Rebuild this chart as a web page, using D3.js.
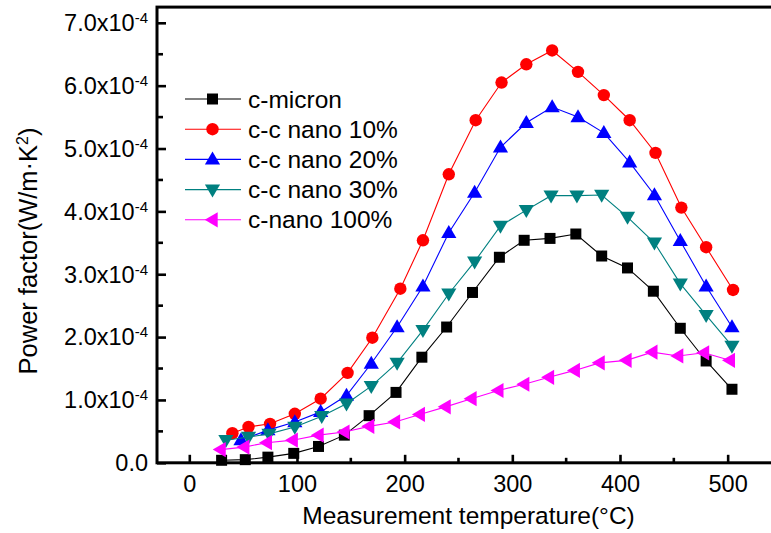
<!DOCTYPE html>
<html>
<head>
<meta charset="utf-8">
<script src="https://cdn.jsdelivr.net/npm/d3@7/dist/d3.min.js"></script>
<style>
  html, body { margin: 0; padding: 0; background: #fff; }
  svg { display: block; }
  text { font-family: "Liberation Sans", Arial, Helvetica, sans-serif; fill: #000; }
</style>
</head>
<body>
<svg id="chart" width="771" height="533"></svg>
<script>
// Power factor of the samples, in units of 1e-4 W/(m·K²), versus temperature (°C)
const microT   = [30, 52, 73, 97, 120, 144, 167, 192, 216, 239, 263, 288, 311, 335, 359, 383, 407, 431, 456, 480, 504];
const microPF  = [0.04, 0.05, 0.09, 0.15, 0.26, 0.44, 0.75, 1.12, 1.68, 2.16, 2.71, 3.27, 3.54, 3.57, 3.64, 3.29, 3.10, 2.73, 2.14, 1.62, 1.17];

const nano10T  = [40, 55, 75, 98, 122, 147, 170, 196, 217, 241, 266, 290, 313, 337, 361, 385, 409, 433, 457, 480, 505];
const nano10PF = [0.47, 0.57, 0.62, 0.78, 1.02, 1.43, 1.99, 2.77, 3.54, 4.59, 5.45, 6.05, 6.34, 6.56, 6.22, 5.85, 5.45, 4.93, 4.06, 3.43, 2.75];

const nano20T  = [48, 73, 98, 122, 146, 169, 193, 217, 241, 265, 289, 313, 337, 361, 385, 409, 432, 456, 480, 504];
const nano20PF = [0.36, 0.52, 0.65, 0.81, 1.07, 1.58, 2.16, 2.81, 3.66, 4.30, 5.02, 5.41, 5.66, 5.50, 5.25, 4.78, 4.26, 3.53, 2.81, 2.16];

const nano30T  = [34, 55, 74, 98, 123, 146, 169, 193, 217, 241, 265, 289, 313, 336, 360, 383, 407, 432, 456, 480, 504];
const nano30PF = [0.36, 0.41, 0.46, 0.57, 0.74, 0.94, 1.22, 1.59, 2.11, 2.69, 3.20, 3.77, 4.02, 4.25, 4.25, 4.26, 3.91, 3.50, 2.85, 2.35, 1.86];

const nano100T  = [29, 51, 72, 96, 120, 144, 167, 191, 214, 238, 262, 287, 311, 334, 358, 381, 406, 430, 454, 478, 502];
const nano100PF = [0.21, 0.25, 0.32, 0.36, 0.44, 0.49, 0.58, 0.65, 0.77, 0.89, 1.02, 1.15, 1.25, 1.36, 1.47, 1.59, 1.63, 1.76, 1.70, 1.75, 1.63];

const seriesNames = ["c-micron", "c-c nano 10%", "c-c nano 20%", "c-c nano 30%", "c-nano 100%"];
const seriesColors = ["#000000", "#ff0000", "#0000ff", "#008080", "#ff00ff"];
const seriesSymbols = ["square", "circle", "triangleUp", "triangleDown", "triangleLeft"];

const xMajorTicks = [0, 100, 200, 300, 400, 500];
const xMinorTicks = [50, 150, 250, 350, 450];
const yMajorTicks = [0, 1, 2, 3, 4, 5, 6, 7];
const yMinorTicks = [0.5, 1.5, 2.5, 3.5, 4.5, 5.5, 6.5];

const xTitle = "Measurement temperature(°C)";

const series = [
  { T: microT,   v: microPF },
  { T: nano10T,  v: nano10PF },
  { T: nano20T,  v: nano20PF },
  { T: nano30T,  v: nano30PF },
  { T: nano100T, v: nano100PF }
].map((s, i) => ({
  name: seriesNames[i], color: seriesColors[i], symbol: seriesSymbols[i],
  points: s.T.map((t, j) => ({ t, v: s.v[j] }))
}));

const svg = d3.select("#chart");

const x = d3.scaleLinear().domain([-30, 580]).range([157, 813.8]);
const y = d3.scaleLinear().domain([0, 7.25]).range([462.8, 7.1]);

// marker shapes, centred on the data point
function symbolPath(kind) {
  switch (kind) {
    case "square": return "M-5.5,-5.5H5.5V5.5H-5.5Z";
    case "circle": return d3.symbol(d3.symbolCircle, Math.PI * 6.2 * 6.2)();
    case "triangleUp": return "M0,-7.8L7.6,5.2L-7.6,5.2Z";
    case "triangleDown": return "M0,7.8L7.6,-5.2L-7.6,-5.2Z";
    case "triangleLeft": return "M-7.8,0L5.2,-7.6L5.2,7.6Z";
  }
}

// y axis (inward ticks)
const yAxis = d3.axisLeft(y).tickValues(yMajorTicks).tickSizeInner(-9).tickSizeOuter(0).tickPadding(9)
  .tickFormat(() => "");
const gy = svg.append("g").attr("transform", `translate(${x(-30)},0)`).call(yAxis);
gy.select(".domain").remove();
gy.selectAll(".tick line").attr("stroke", "#000").attr("stroke-width", 2.6);
gy.selectAll(".tick text").each(function(d) {
  const t = d3.select(this).attr("font-size", 23.5).attr("text-anchor", "end").attr("dy", "0.33em");
  if (d === 0) { t.text("0.0"); return; }
  t.append("tspan").text(d.toFixed(1) + "x10");
  t.append("tspan").attr("font-size", 15).attr("dy", -8).text("-4");
});
svg.append("g").selectAll("line").data(yMinorTicks).join("line")
  .attr("x1", x(-30)).attr("x2", x(-30) + 6)
  .attr("y1", d => y(d)).attr("y2", d => y(d))
  .attr("stroke", "#000").attr("stroke-width", 2.6);

// x axis (inward ticks)
const xAxis = d3.axisBottom(x).tickValues(xMajorTicks).tickSizeInner(-8).tickSizeOuter(0).tickPadding(13)
  .tickFormat(d3.format("d"));
const gx = svg.append("g").attr("transform", `translate(0,${y(0)})`).call(xAxis);
gx.select(".domain").remove();
gx.selectAll(".tick line").attr("stroke", "#000").attr("stroke-width", 2.6);
gx.selectAll(".tick text").attr("font-size", 23.5).attr("font-family", null);
svg.append("g").selectAll("line").data(xMinorTicks).join("line")
  .attr("x1", d => x(d)).attr("x2", d => x(d))
  .attr("y1", y(0)).attr("y2", y(0) - 5)
  .attr("stroke", "#000").attr("stroke-width", 2.6);

// frame
svg.append("rect")
  .attr("x", x(-30)).attr("y", y(7.25))
  .attr("width", x(580) - x(-30)).attr("height", y(0) - y(7.25))
  .attr("fill", "none").attr("stroke", "#000").attr("stroke-width", 3);

// series lines and markers
const line = d3.line().x(d => x(d.t)).y(d => y(d.v));
series.forEach(s => {
  const g = svg.append("g");
  g.append("path").datum(s.points).attr("d", line)
    .attr("fill", "none").attr("stroke", s.color).attr("stroke-width", 1.1);
  g.selectAll("path.mk").data(s.points).join("path").attr("class", "mk")
    .attr("d", symbolPath(s.symbol))
    .attr("transform", d => `translate(${x(d.t)},${y(d.v)})`)
    .attr("fill", s.color);
});

// legend
const legend = svg.append("g").attr("transform", "translate(185,99)");
series.forEach((s, i) => {
  const row = legend.append("g").attr("transform", `translate(0,${i * 30.2})`);
  row.append("line").attr("x1", 0).attr("x2", 56).attr("y1", 0).attr("y2", 0)
    .attr("stroke", s.color).attr("stroke-width", 1.1);
  row.append("path").attr("d", symbolPath(s.symbol)).attr("transform", "translate(27.5,0)").attr("fill", s.color);
  row.append("text").attr("x", 63).attr("y", 0).attr("dy", "0.35em").attr("font-size", 24.5).text(s.name);
});

// axis titles
svg.append("text").attr("x", 468.5).attr("y", 524).attr("text-anchor", "middle")
  .attr("font-size", 24.5).text(xTitle);

const yt = svg.append("text").attr("transform", "translate(37,251) rotate(-90)")
  .attr("text-anchor", "middle").attr("font-size", 25.5);
yt.append("tspan").text("Power factor(W/m·K");
yt.append("tspan").attr("font-size", 16).attr("dy", -9).text("2");
yt.append("tspan").attr("dy", 9).text(")");
</script>
</body>
</html>
